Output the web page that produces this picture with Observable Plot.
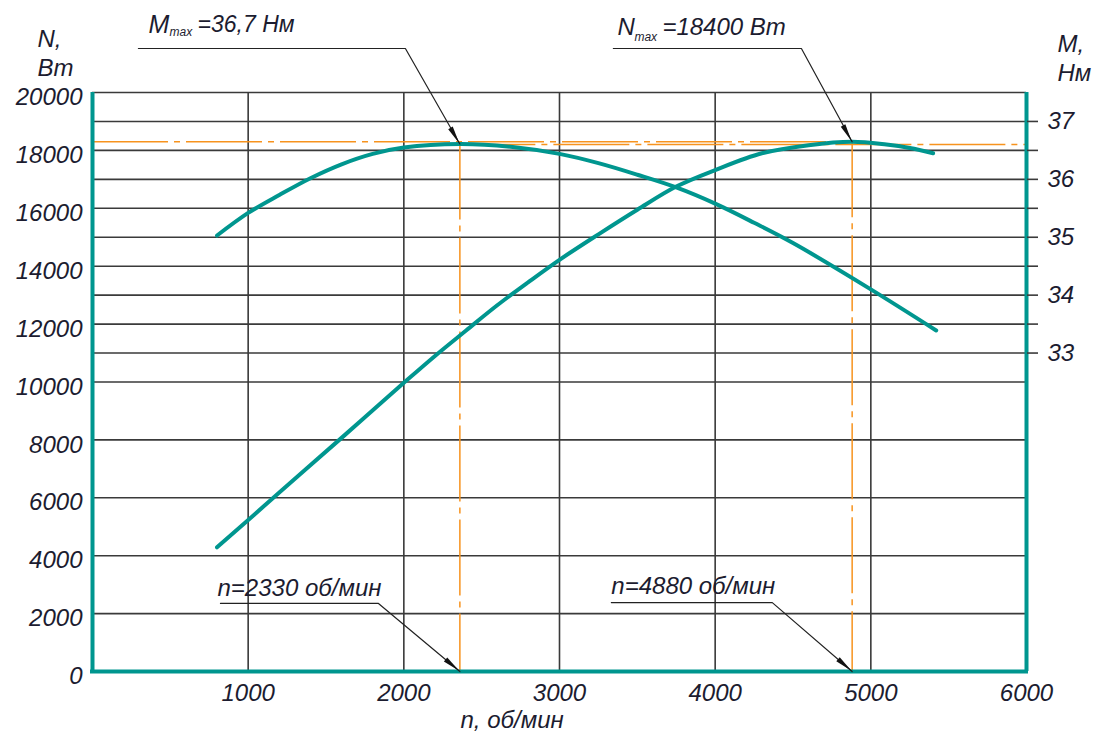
<!DOCTYPE html>
<html><head><meta charset="utf-8">
<script src="https://cdn.jsdelivr.net/npm/d3@7"></script>
<script src="https://cdn.jsdelivr.net/npm/@observablehq/plot@0.6"></script>
<style>html,body{margin:0;padding:0;background:#fff;}</style>
</head><body><div id="chart"></div>
<script>
// ---- data ----
// power curve N (Вт) vs n (об/мин)
const speedN = [800, 1200, 1600, 2000, 2200, 2400, 2600, 2800, 3000, 3250, 3500, 3750, 4000, 4300, 4600, 4880, 5100, 5250, 5400];
const power  = [4290, 6180, 8070, 9970, 10900, 11780, 12650, 13450, 14220, 15100, 15950, 16750, 17320, 17900, 18180, 18300, 18200, 18080, 17900];
// torque curve M (Нм) vs n
const speedM = [800, 1000, 1200, 1400, 1600, 1800, 2000, 2360, 2700, 3000, 3250, 3500, 3750, 4000, 4250, 4500, 5000, 5420];
const torque = [35.03, 35.42, 35.73, 36.02, 36.26, 36.44, 36.55, 36.61, 36.56, 36.44, 36.28, 36.08, 35.86, 35.58, 35.25, 34.90, 34.10, 33.39];

// axes / grid
const xTicks = [1000, 2000, 3000, 4000, 5000, 6000];
const xGrid  = [1000, 2000, 3000, 4000, 5000];
const nTicks = [0, 2000, 4000, 6000, 8000, 10000, 12000, 14000, 16000, 18000, 20000];
const nGrid  = [0, 2000, 4000, 6000, 8000, 10000, 11000, 12000, 13000, 14000, 15000, 16000, 17000, 18000, 19000, 20000];
const mTicks = [33, 33.5, 34, 34.5, 35, 35.5, 36, 36.5, 37];
// right axis alignment: M = 37 at N = 19000, M = 33 at N = 11000
const M_AT_TOP = 37, N_AT_TOP = 19000, N_PER_M = 2000;
const toN = m => N_AT_TOP - (M_AT_TOP - m) * N_PER_M;

// maxima (as drawn) and their labels
const nAtMmax = 2360, mMaxDrawn = 36.61;
const nAtNmax = 4880, nMaxDrawn = 18300;
const mLineDrawn = 36.6;

// annotation leaders (n, value)
const leaders = [
  {id: "M", pts: [[295, 21520], [2010, 21520], [nAtMmax, toN(mMaxDrawn)]]},
  {id: "N", pts: [[3346, 21520], [4554, 21520], [nAtNmax, nMaxDrawn]]},
  {id: "n1", pts: [[822, 2350], [1837, 2350], [nAtMmax, 0]]},
  {id: "n2", pts: [[3333, 2380], [4367, 2380], [nAtNmax, 0]]}
];
const labelsBig = [
  {n: 360, v: 22070, t: "M", dx: 0, dy: 0, fs: 25},
  {n: 360, v: 22070, t: "max", dx: 21, dy: 3, fs: 12},
  {n: 360, v: 22070, t: "=36,7 Нм", dx: 49, dy: -1, fs: 23},
  {n: 3372, v: 21969, t: "N", dx: 0, dy: 0, fs: 24},
  {n: 3372, v: 21969, t: "max", dx: 17, dy: 6, fs: 12},
  {n: 3372, v: 21969, t: "=18400 Вт", dx: 45, dy: 0, fs: 24},
  {n: 803, v: 2625, t: "n=2330 об/мин", dx: 0, dy: 0, fs: 24},
  {n: 3333, v: 2660, t: "n=4880 об/мин", dx: 0, dy: 0, fs: 24}
];

const teal = "#00968f", orange = "#f7931e", gridC = "#3a3a3a", ink = "#1c1c30";
const FONT = "Liberation Sans, Arial, sans-serif";
const dash = "76,6,6,6";

const powerData = speedN.map((n, i) => ({n, v: power[i]}));
const torqueData = speedM.map((n, i) => ({n, v: toN(torque[i])}));
const leaderData = leaders.flatMap(l => l.pts.map(([n, v]) => ({id: l.id, n, v})));

const plot = Plot.plot({
  width: 1095, height: 733,
  marginLeft: 92, marginRight: 69, marginTop: 92, marginBottom: 62,
  style: {fontFamily: FONT, fontSize: "24px", fontStyle: "italic", background: "#fff"},
  x: {domain: [0, 6000], label: null},
  y: {domain: [0, 20000], label: null},
  marks: [
    Plot.ruleY(nGrid, {stroke: gridC, strokeWidth: 1.6}),
    Plot.ruleX(xGrid, {stroke: gridC, strokeWidth: 1.6}),
    // orange reference lines
    Plot.ruleY([nMaxDrawn], {x1: 0, x2: nAtNmax, stroke: orange, strokeWidth: 1.5, strokeDasharray: dash}),
    Plot.ruleY([toN(mLineDrawn)], {x1: nAtMmax, x2: 6000, stroke: orange, strokeWidth: 1.5, strokeDasharray: dash}),
    Plot.ruleX([nAtMmax], {y1: toN(mMaxDrawn), y2: 0, stroke: orange, strokeWidth: 1.5, strokeDasharray: dash}),
    Plot.ruleX([nAtNmax], {y1: nMaxDrawn, y2: 0, stroke: orange, strokeWidth: 1.5, strokeDasharray: dash}),
    // curves
    Plot.line(powerData, {x: "n", y: "v", stroke: teal, strokeWidth: 4, curve: "catmull-rom"}),
    Plot.line(torqueData, {x: "n", y: "v", stroke: teal, strokeWidth: 4, curve: "catmull-rom"}),
    // frame (teal sides and bottom)
    Plot.ruleX([0, 6000], {stroke: teal, strokeWidth: 4}),
    Plot.ruleY([0], {stroke: teal, strokeWidth: 4, strokeLinecap: "square"}),
    // axes
    Plot.axisY(nTicks, {anchor: "left", tickSize: 0, tickPadding: 10, dy: 5, tickFormat: d => String(d),
      fontSize: 24, fill: ink, fontStyle: "italic", fontFamily: FONT}),
    Plot.axisY(mTicks.map(toN), {anchor: "right", tickSize: 11, tickPadding: 10, stroke: gridC, strokeWidth: 1.6,
      tickFormat: d => { const m = (d - N_AT_TOP) / N_PER_M + M_AT_TOP; return Number.isInteger(Math.round(m * 100) / 100) ? String(Math.round(m)) : ""; },
      fontSize: 24, fill: ink, fontStyle: "italic", fontFamily: FONT}),
    Plot.axisX(xTicks, {anchor: "bottom", tickSize: 0, tickPadding: 12, tickFormat: d => String(d),
      fontSize: 24, fill: ink, fontStyle: "italic", fontFamily: FONT}),
    // axis titles
    Plot.text(["N,\nВт"], {frameAnchor: "top-left", dx: -55, dy: -17, textAnchor: "start", lineAnchor: "bottom", lineHeight: 1.17,
      fontSize: 24, fill: ink, fontStyle: "italic", fontFamily: FONT}),
    Plot.text(["M,\nНм"], {frameAnchor: "top-right", dx: 31, dy: -12, textAnchor: "start", lineAnchor: "bottom", lineHeight: 1.17,
      fontSize: 24, fill: ink, fontStyle: "italic", fontFamily: FONT}),
    Plot.text(["n, об/мин"], {frameAnchor: "bottom", dx: -99, dy: 56, textAnchor: "start", lineAnchor: "bottom",
      fontSize: 24, fill: ink, fontStyle: "italic", fontFamily: FONT}),
    // leaders
    Plot.line(leaderData, {x: "n", y: "v", z: "id", stroke: "#222", strokeWidth: 1.2}),
    // annotation texts
    ...labelsBig.map(l => Plot.text([l], {x: "n", y: "v", text: "t", dx: l.dx, dy: l.dy, fontSize: l.fs,
      textAnchor: "start", lineAnchor: "bottom", fill: ink, fontStyle: "italic", fontFamily: FONT}))
  ]
});

// filled arrowheads at leader tips, positioned through the plot's scales
const sx = plot.scale("x"), sy = plot.scale("y");
const svg = d3.select(plot.tagName.toLowerCase() === "svg" ? plot : plot.querySelector("svg"));
for (const l of leaders) {
  const [e, t] = l.pts.slice(-2);
  const ex = sx.apply(e[0]), ey = sy.apply(e[1]), tx = sx.apply(t[0]), ty = sy.apply(t[1]);
  const len = Math.hypot(tx - ex, ty - ey), ux = (tx - ex) / len, uy = (ty - ey) / len;
  const L = 18, W = 2.6, bx = tx - ux * L, by = ty - uy * L;
  svg.append("path")
    .attr("d", `M${tx},${ty}L${bx - uy * W},${by + ux * W}L${bx + uy * W},${by - ux * W}Z`)
    .attr("fill", "#111");
}
document.getElementById("chart").appendChild(plot);
</script>
</body></html>
